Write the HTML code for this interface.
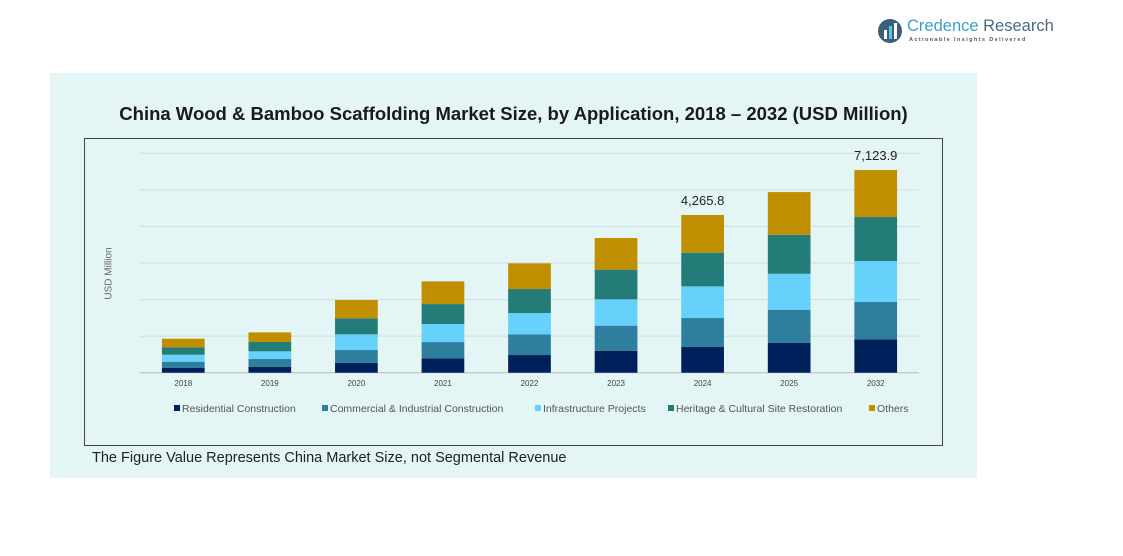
<!DOCTYPE html>
<html><head><meta charset="utf-8"><style>
body{margin:0;width:1123px;height:556px;background:#fff;position:relative;overflow:hidden;font-family:"Liberation Sans",sans-serif}
.abs{position:absolute}
</style></head><body>
<div class="abs" style="left:876px;top:16px;width:180px;height:30px">
 <svg width="30" height="30" class="abs" style="left:0;top:0"><circle cx="14" cy="15" r="12" fill="#3a5f7a"/><rect x="8" y="14" width="3" height="9" fill="#fff"/><rect x="13" y="10" width="3" height="13" fill="#5bc8e6"/><rect x="18" y="7" width="3" height="16" fill="#fff"/></svg>
 <div class="abs" style="left:31px;top:1px;font-size:16.5px;color:#4a6a80;white-space:nowrap"><span style="color:#3aa0c8">Credence</span> Research</div>
 <div class="abs" style="left:33px;top:21px;font-size:5.5px;letter-spacing:1.4px;color:#555;white-space:nowrap;font-weight:bold">Actionable Insights Delivered</div>
</div>
<div class="abs" style="left:50px;top:73px;width:927px;height:405px;background:#e4f5f5"></div>
<div class="abs" style="left:50px;top:103px;width:927px;text-align:center;font-size:18.5px;font-weight:bold;color:#1a1a1a">China Wood &amp; Bamboo Scaffolding Market Size, by Application, 2018 – 2032 (USD Million)</div>
<div class="abs" style="left:84px;top:138px;width:857px;height:306px;border:1px solid #444"></div>
<svg id="chart" class="abs" style="left:0;top:0" width="1123" height="556"></svg>
<div class="abs" style="left:79px;top:268px;width:60px;text-align:center;font-size:10px;color:#666;transform:rotate(-90deg)">USD Million</div>
<div class="abs" style="left:92px;top:450px;font-size:14.5px;color:#222">The Figure Value Represents China Market Size, not Segmental Revenue</div>
<script>
const categories=["2018","2019","2020","2021","2022","2023","2024","2025","2032"];
const seriesNames=["Residential Construction","Commercial & Industrial Construction","Infrastructure Projects","Heritage & Cultural Site Restoration","Others"];
const residential=[137,164,273,392,483,602,702,820,912];
const commercial=[164,210,347,446,566,684,793,902,1021];
const infrastructure=[191,210,429,492,583,720,866,984,1121];
const heritage=[200,255,437,547,656,812,921,1066,1203];
const others=[237,264,501,620,702,866,1030,1167,1285];
const totalLabels=["","","","","","","4,265.8","","7,123.9"];
const yTicks=[0,1000,2000,3000,4000,5000,6000];
const colors=["#00205b","#2e7f9e","#66d1fb","#237c78","#bf8f00"];
const series=[residential,commercial,infrastructure,heritage,others];
const NS="http://www.w3.org/2000/svg";
const svg=document.getElementById('chart');
const x0=140,x1=919,yBase=372.7,yMaxPx=153.3,yMax=6000;
const band=(x1-x0)/categories.length,bw=42.7;
const y=v=>yBase-(v/yMax)*(yBase-yMaxPx);
const xc=i=>x0+band*(i+0.5);
function mk(t,a){const e=document.createElementNS(NS,t);for(const k in a)e.setAttribute(k,a[k]);svg.appendChild(e);return e;}
yTicks.forEach(t=>{const l=mk('line',{x1:x0,x2:x1,y1:y(t),y2:y(t),stroke:t===0?'#bbb':'#d0dcdc','stroke-width':1});

});
categories.forEach((c,i)=>{let acc=0;
 series.forEach((s,j)=>{const v=s[i];const r=mk('rect',{x:xc(i)-bw/2,y:y(acc+v),width:bw,height:y(acc)-y(acc+v),fill:colors[j]});
 
 
 acc+=v;});
 const t=mk('text',{x:xc(i),y:386,'font-size':8,'text-anchor':'middle',fill:'#444','font-family':'Liberation Sans'});t.textContent=c;
 
 
 if(totalLabels[i]){const lb=mk('text',{x:xc(i),y:y(acc)-10,'font-size':13,'text-anchor':'middle',fill:'#222','font-family':'Liberation Sans'});lb.textContent=totalLabels[i];
 
 }
});
const lx=[174,322,535,668,869];
seriesNames.forEach((n,j)=>{const r=mk('rect',{x:lx[j],y:405,width:6,height:6,fill:colors[j]});
 
 
 const t=mk('text',{x:lx[j]+8,y:412,'font-size':10.5,fill:'#555','font-family':'Liberation Sans'});t.textContent=n;
 
 });
</script>
</body></html>
